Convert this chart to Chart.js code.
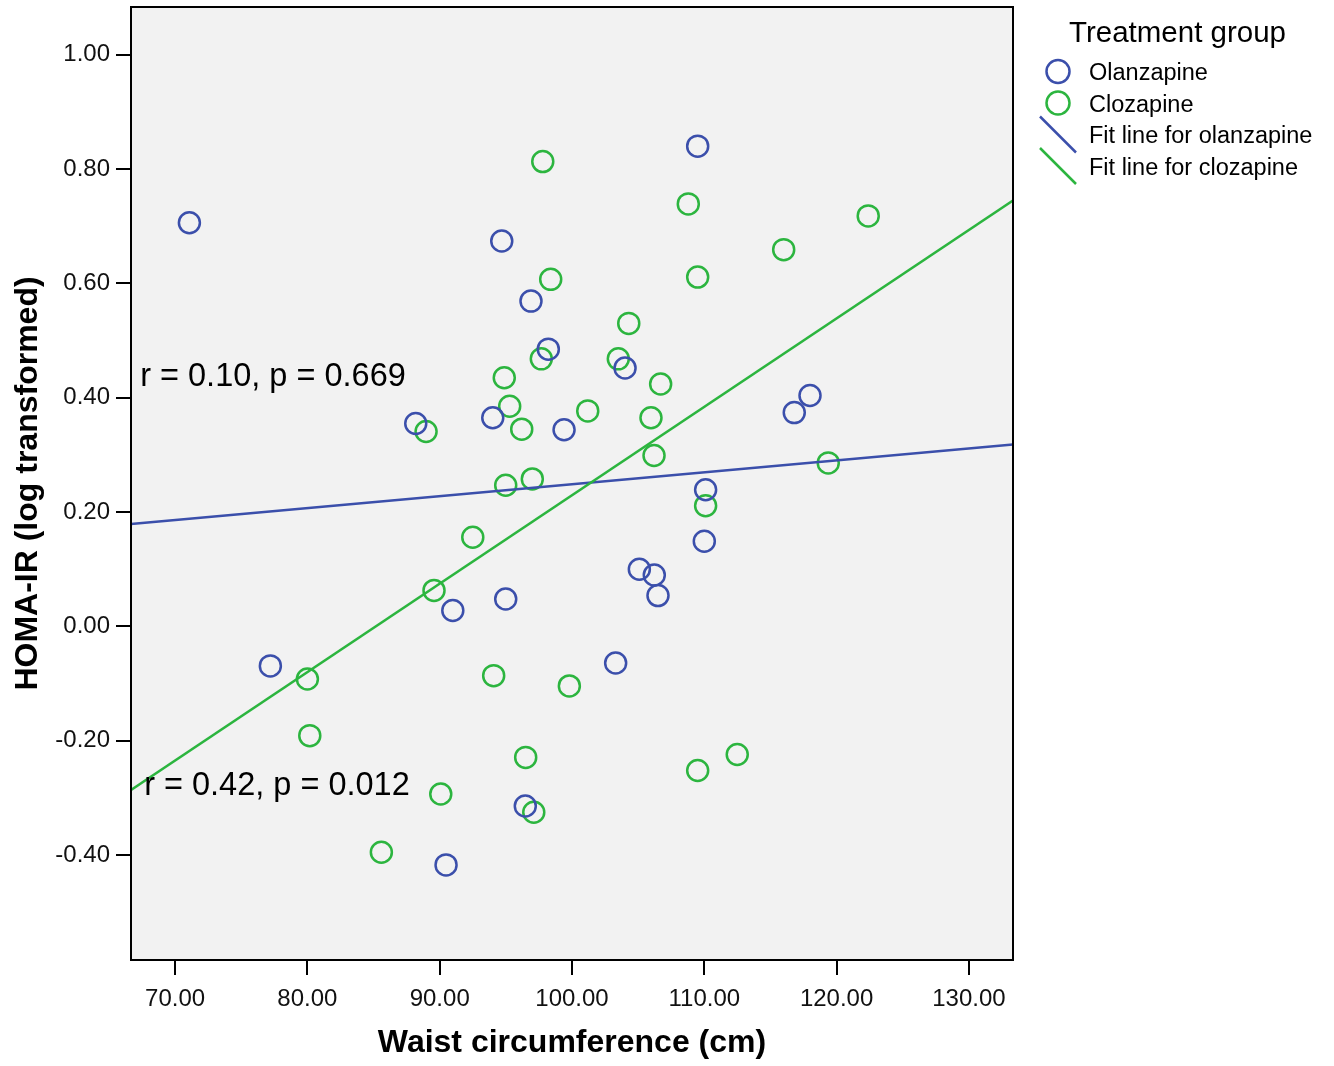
<!DOCTYPE html>
<html><head><meta charset="utf-8">
<script src="https://cdn.jsdelivr.net/npm/chart.js@4.4.0/dist/chart.umd.min.js"></script>
<style>html,body{margin:0;padding:0;background:#fff;overflow:hidden;} #wrap{width:1334px;height:1066px;position:relative;overflow:hidden;} #c{position:absolute;left:0;top:0;}</style>
</head><body><div id="wrap"><canvas id="c" width="1334" height="1066"></canvas></div>
<script>
// ---- data ----
const olanWaist = [71.08,109.50,94.69,96.90,98.21,104.01,88.19,94.01,99.40,117.99,116.80,110.10,110.00,105.09,106.22,106.50,90.99,94.99,77.20,103.30,96.47,90.48];
const olanHoma  = [0.706,0.840,0.674,0.569,0.485,0.452,0.355,0.365,0.344,0.404,0.374,0.239,0.149,0.100,0.090,0.054,0.028,0.048,-0.069,-0.064,-0.314,-0.417];
const cloWaist = [97.79,108.79,122.39,116.00,109.50,98.39,104.29,103.50,97.68,106.70,94.88,95.29,101.19,105.97,88.97,96.20,106.20,119.37,94.99,97.00,110.10,92.50,89.57,80.00,94.08,99.80,80.18,96.50,112.49,109.50,90.08,97.11,85.59];
const cloHoma  = [0.813,0.739,0.718,0.659,0.611,0.607,0.530,0.468,0.468,0.424,0.435,0.385,0.377,0.365,0.341,0.345,0.299,0.286,0.247,0.258,0.211,0.156,0.063,-0.092,-0.086,-0.104,-0.191,-0.229,-0.224,-0.252,-0.293,-0.325,-0.395];
const fitX = [66.67, 133.33];
const olanFitY = [0.179, 0.318];
const cloFitY = [-0.286, 0.745];
const xTicks = [70, 80, 90, 100, 110, 120, 130];
const yTicks = [-0.40, -0.20, 0.00, 0.20, 0.40, 0.60, 0.80, 1.00];
const seriesNames = ['Olanzapine', 'Clozapine', 'Fit line for olanzapine', 'Fit line for clozapine'];
const legendTitle = 'Treatment group';
const annotationTexts = ['r = 0.10, p = 0.669', 'r = 0.42, p = 0.012'];
const xTitle = 'Waist circumference (cm)';
const yTitle = 'HOMA-IR (log transformed)';

// ---- styles ----
const BLUE = '#3b4fab';
const GREEN = '#2cb53f';
const FONT = '"Liberation Sans", Arial, sans-serif';
const TARGET_TOP = 7;
const PAGE_H = 1066;
let shiftY = 0;

const toPts = (xs, ys) => xs.map((x, i) => ({x: x, y: ys[i]}));

const bgPlugin = {
  id: 'bg',
  beforeDraw(chart) {
    const {ctx, chartArea: a} = chart;
    ctx.save();
    ctx.fillStyle = '#ffffff';
    ctx.fillRect(0, 0, chart.width, chart.height);
    ctx.fillStyle = '#f2f2f2';
    ctx.fillRect(a.left, a.top, a.right - a.left, a.bottom - a.top);
    ctx.restore();
  },
  afterDraw(chart) {
    const {ctx, chartArea: a} = chart;
    ctx.save();
    ctx.strokeStyle = '#000';
    ctx.lineWidth = 2;
    ctx.strokeRect(a.left, a.top, a.right - a.left, a.bottom - a.top);
    ctx.restore();
  }
};

const annPlugin = {
  id: 'ann',
  afterDatasetsDraw(chart) {
    const {ctx} = chart;
    const xs = chart.scales.x, ys = chart.scales.y;
    const pos = [[67.36, 0.421], [67.66, -0.2945]];
    ctx.save();
    ctx.fillStyle = '#000';
    ctx.font = '32.5px ' + FONT;
    ctx.textBaseline = 'alphabetic';
    ctx.textAlign = 'left';
    annotationTexts.forEach((t, i) => {
      ctx.fillText(t, xs.getPixelForValue(pos[i][0]), ys.getPixelForValue(pos[i][1]));
    });
    ctx.restore();
  }
};

const legendPlugin = {
  id: 'sideLegend',
  afterDraw(chart) {
    const {ctx} = chart;
    const ds = chart.data.datasets;
    ctx.save();
    ctx.translate(0, shiftY);
    ctx.fillStyle = '#000';
    ctx.textAlign = 'left';
    ctx.textBaseline = 'alphabetic';
    ctx.font = '29.5px ' + FONT;
    ctx.fillText(legendTitle, 1069, 42);
    ctx.font = '23.5px ' + FONT;
    const baselines = [80, 111.5, 143, 174.5];
    ds.forEach((d, i) => {
      ctx.fillStyle = '#000';
      ctx.fillText(d.label, 1089, baselines[i]);
      ctx.strokeStyle = d.borderColor;
      ctx.lineWidth = 2.5;
      ctx.beginPath();
      if (d.type === 'scatter') {
        ctx.arc(1058, baselines[i] - 8.5, 11.5, 0, Math.PI * 2);
      } else {
        const cy = baselines[i] - 8.5;
        ctx.moveTo(1040, cy - 18);
        ctx.lineTo(1076, cy + 18);
      }
      ctx.stroke();
    });
    ctx.restore();
  }
};

const canvas = document.getElementById('c');

function makeChart() {
  return new Chart(canvas, {
    data: {
      datasets: [
        {type: 'scatter', label: seriesNames[0], data: toPts(olanWaist, olanHoma), borderColor: BLUE, backgroundColor: 'rgba(0,0,0,0)', pointRadius: 10.5, pointBorderWidth: 2.5, pointHoverRadius: 10.5, order: 2},
        {type: 'scatter', label: seriesNames[1], data: toPts(cloWaist, cloHoma), borderColor: GREEN, backgroundColor: 'rgba(0,0,0,0)', pointRadius: 10.5, pointBorderWidth: 2.5, pointHoverRadius: 10.5, order: 3},
        {type: 'line', label: seriesNames[2], data: toPts(fitX, olanFitY), borderColor: BLUE, borderWidth: 2.5, pointRadius: 0, fill: false, tension: 0, order: 1},
        {type: 'line', label: seriesNames[3], data: toPts(fitX, cloFitY), borderColor: GREEN, borderWidth: 2.5, pointRadius: 0, fill: false, tension: 0, order: 0}
      ]
    },
    options: {
      responsive: false,
      maintainAspectRatio: false,
      animation: false,
      devicePixelRatio: 1,
      layout: {padding: {left: 0, right: 321, top: TARGET_TOP, bottom: 0}},
      plugins: {legend: {display: false}, tooltip: {enabled: false}},
      scales: {
        x: {
          type: 'linear', min: 200 / 3, max: 400 / 3,
          afterBuildTicks: s => { s.ticks = xTicks.map(v => ({value: v})); },
          afterFit: s => { s.height = 106; s.paddingLeft = 0; s.paddingRight = 0; },
          grid: {display: true, drawOnChartArea: false, drawTicks: true, tickLength: 15, color: '#000', lineWidth: 2},
          border: {display: false},
          ticks: {color: '#111', font: {family: FONT, size: 24}, padding: 10, maxRotation: 0, autoSkip: false, callback: v => Number(v).toFixed(2)},
          title: {display: true, text: xTitle, color: '#000', font: {family: FONT, size: 32, weight: 'bold'}, padding: {top: 0, bottom: 4}}
        },
        y: {
          type: 'linear', min: -0.58333, max: 1.08333,
          afterBuildTicks: s => { s.ticks = yTicks.map(v => ({value: v})); },
          afterFit: s => { s.width = 131; s.paddingTop = 0; s.paddingBottom = 0; },
          grid: {display: true, drawOnChartArea: false, drawTicks: true, tickLength: 15, color: '#000', lineWidth: 2},
          border: {display: false},
          ticks: {color: '#111', font: {family: FONT, size: 24}, padding: 6, autoSkip: false, callback: v => Number(v).toFixed(2)},
          title: {display: true, text: yTitle, color: '#000', font: {family: FONT, size: 32, weight: 'bold'}, padding: {top: 9, bottom: 0}}
        }
      }
    },
    plugins: [bgPlugin, annPlugin, legendPlugin]
  });
}

// build once, then make the plot frame start at the intended top edge
let chart = makeChart();
const extra = Math.round(chart.chartArea.top - TARGET_TOP);
if (extra > 0) {
  chart.destroy();
  shiftY = extra;
  canvas.width = 1334;
  canvas.height = PAGE_H + shiftY;
  canvas.style.width = '1334px';
  canvas.style.height = (PAGE_H + shiftY) + 'px';
  canvas.style.top = (-shiftY) + 'px';
  chart = makeChart();
}
</script>
</body></html>
